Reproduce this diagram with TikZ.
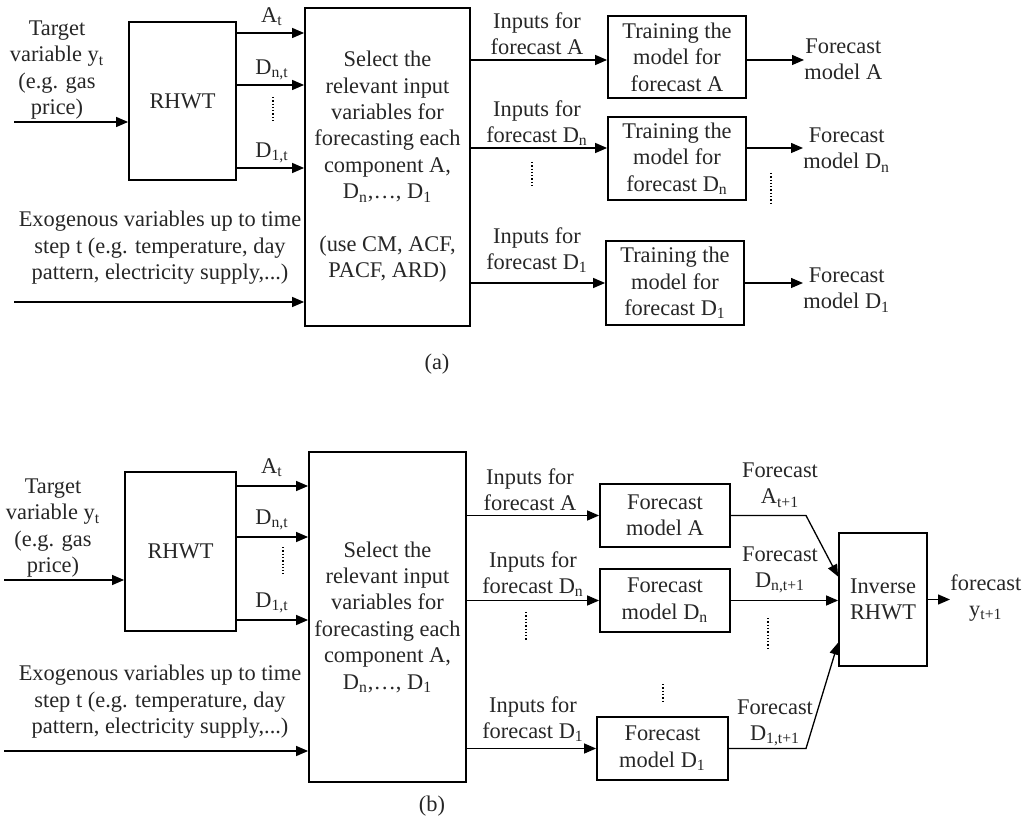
\documentclass[tikz,border=0pt]{standalone}
\usepackage{fontspec}
\setmainfont{Liberation Serif}
\usetikzlibrary{arrows.meta, calc}
\tikzset{
    box/.style={draw, line width=0.9pt, align=center, inner sep=0pt},
    lbl/.style={align=center, inner sep=0pt},
    arr/.style={-{Triangle[length=6pt, width=5pt]}, line width=0.65pt},
    dots/.style={densely dotted, line width=0.65pt}
}
\newcommand{\sub}[1]{\textsubscript{#1}}

\begin{document}
\begin{tikzpicture}[x=0.5pt, y=-0.5pt, font=\fontsize{11.2}{13.2}\selectfont, text=black!85]
        \useasboundingbox (0, 0) rectangle (1026, 822);
        % (a) training
        \node[box, minimum width=53.5pt, minimum height=79pt] (rhwtA) at (182.5, 101) {RHWT};
        \node[box, minimum width=82.5pt, minimum height=159pt] (selA) at (387.5, 167) {Select the\\relevant input\\variables for\\forecasting each\\component A,\\D\sub{n},\ldots, D\sub{1}\\[13.2pt](use CM, ACF,\\PACF, ARD)};
        \node[box, minimum width=69pt, minimum height=41pt] (trainA) at (677, 57) {Training the\\model for\\forecast A};
        \node[box, minimum width=69pt, minimum height=41.5pt] (trainDn) at (677, 158.5) {Training the\\model for\\forecast D\sub{n}};
        \node[box, minimum width=69pt, minimum height=42pt] (trainDo) at (675, 283) {Training the\\model for\\forecast D\sub{1}};
        \node[lbl] (tgtA) at (57, 70) {Target\\variable y\sub{t}\\(e.g. gas\\price)};
        \node[lbl] (exoA) at (160, 248) {Exogenous variables up to time\\step t (e.g. temperature, day\\pattern, electricity supply,...)};
        \node[lbl] (atA) at (272, 17) {A\sub{t}};
        \node[lbl] (dntA) at (272, 70) {D\sub{n,t}};
        \node[lbl] (dotA) at (272, 153) {D\sub{1,t}};
        \node[lbl] (inA) at (537, 34) {Inputs for\\forecast A};
        \node[lbl] (inDnA) at (537, 123) {Inputs for\\forecast D\sub{n}};
        \node[lbl] (inDoA) at (537, 250) {Inputs for\\forecast D\sub{1}};
        \node[lbl, anchor=west] (fmA) at (804, 59) {Forecast\\model A};
        \node[lbl, anchor=west] (fmDn) at (803, 150) {Forecast\\model D\sub{n}};
        \node[lbl, anchor=west] (fmDo) at (803, 290) {Forecast\\model D\sub{1}};
        \node[lbl] (capA) at (437, 364) {(a)};
        \coordinate (tinA) at (14, 122);
        \coordinate (einA) at (14, 302);
        \coordinate (la) at (0, 33);
        \coordinate (ldn) at (0, 85);
        \coordinate (ldo) at (0, 168);
        \coordinate (ma) at (0, 60);
        \coordinate (mdn) at (0, 148);
        \coordinate (mdo) at (0, 283);
        \draw[arr] (tinA) -- (rhwtA.west |- tinA);
        \draw[arr] (einA) -- (selA.west |- einA);
        \foreach \l in {la, ldn, ldo}
            \draw[arr] (rhwtA.east |- \l) -- (selA.west |- \l);
        \draw[arr] (selA.east |- ma) -- (trainA.west |- ma);
        \draw[arr] (selA.east |- mdn) -- (trainDn.west |- mdn);
        \draw[arr] (selA.east |- mdo) -- (trainDo.west |- mdo);
        \draw[arr] (trainA.east |- ma) -- (fmA.west |- ma);
        \draw[arr] (trainDn.east |- mdn) -- (fmDn.west |- mdn);
        \draw[arr] (trainDo.east |- mdo) -- (fmDo.west |- mdo);
        \draw[dots] (273, 97) -- (273, 123);
        \draw[dots] (532, 162) -- (532, 188);
        \draw[dots] (771, 173) -- (771, 203);

        % (b) forecasting
        \node[box, minimum width=55.5pt, minimum height=79.5pt] (rhwtB) at (180.5, 551.5) {RHWT};
        \node[box, minimum width=78.5pt, minimum height=165pt] (selB) at (387.5, 617) {Select the\\relevant input\\variables for\\forecasting each\\component A,\\D\sub{n},\ldots, D\sub{1}};
        \node[box, minimum width=65pt, minimum height=31.5pt] (fcA) at (665, 515.5) {Forecast\\model A};
        \node[box, minimum width=65pt, minimum height=31.5pt] (fcDn) at (665, 600.5) {Forecast\\model D\sub{n}};
        \node[box, minimum width=65.5pt, minimum height=31.5pt] (fcDo) at (662.5, 748.5) {Forecast\\model D\sub{1}};
        \node[box, minimum width=44pt, minimum height=66.5pt] (inv) at (883, 599.5) {Inverse\\RHWT};
        \node[lbl] (tgtB) at (53, 528) {Target\\variable y\sub{t}\\(e.g. gas\\price)};
        \node[lbl] (exoB) at (160, 702) {Exogenous variables up to time\\step t (e.g. temperature, day\\pattern, electricity supply,...)};
        \node[lbl] (atB) at (272, 468) {A\sub{t}};
        \node[lbl] (dntB) at (272, 520) {D\sub{n,t}};
        \node[lbl] (dotB) at (272, 603) {D\sub{1,t}};
        \node[lbl] (inB) at (530, 490) {Inputs for\\forecast A};
        \node[lbl] (inDnB) at (533, 574) {Inputs for\\forecast D\sub{n}};
        \node[lbl] (inDoB) at (533, 719) {Inputs for\\forecast D\sub{1}};
        \node[lbl] (oA) at (780, 485) {Forecast\\A\sub{t+1}};
        \node[lbl] (oDn) at (780, 570) {Forecast\\D\sub{n,t+1}};
        \node[lbl] (oDo) at (775, 723) {Forecast\\D\sub{1,t+1}};
        \node[lbl, anchor=west] (yout) at (950, 598) {forecast\\y\sub{t+1}};
        \node[lbl] (capB) at (432, 806) {(b)};
        \coordinate (tinB) at (4, 580);
        \coordinate (einB) at (4, 751);
        \coordinate (lb) at (0, 486);
        \coordinate (lbn) at (0, 537);
        \coordinate (lbo) at (0, 620);
        \coordinate (kx) at (806, 0);
        \draw[arr] (tinB) -- (rhwtB.west |- tinB);
        \draw[arr] (einB) -- (selB.west |- einB);
        \foreach \l in {lb, lbn, lbo}
            \draw[arr] (rhwtB.east |- \l) -- (selB.west |- \l);
        \foreach \f in {fcA, fcDn, fcDo}
            \draw[arr] (selB.east |- \f.west) -- (\f.west);
        \draw[arr] (fcA.east) -- (fcA.east -| kx) -- ($(inv.north west)!0.33!(inv.south west)$);
        \draw[arr] (fcDn.east) -- (inv.west |- fcDn.east);
        \draw[arr] (fcDo.east) -- (fcDo.east -| kx) -- ($(inv.north west)!0.82!(inv.south west)$);
        \draw[arr] (inv.east) -- (yout.west |- inv.east);
        \draw[dots] (283, 547) -- (283, 574);
        \draw[dots] (526, 612) -- (526, 640);
        \draw[dots] (663, 684) -- (663, 703);
        \draw[dots] (768, 618) -- (768, 648);
    \end{tikzpicture}
\end{document}
